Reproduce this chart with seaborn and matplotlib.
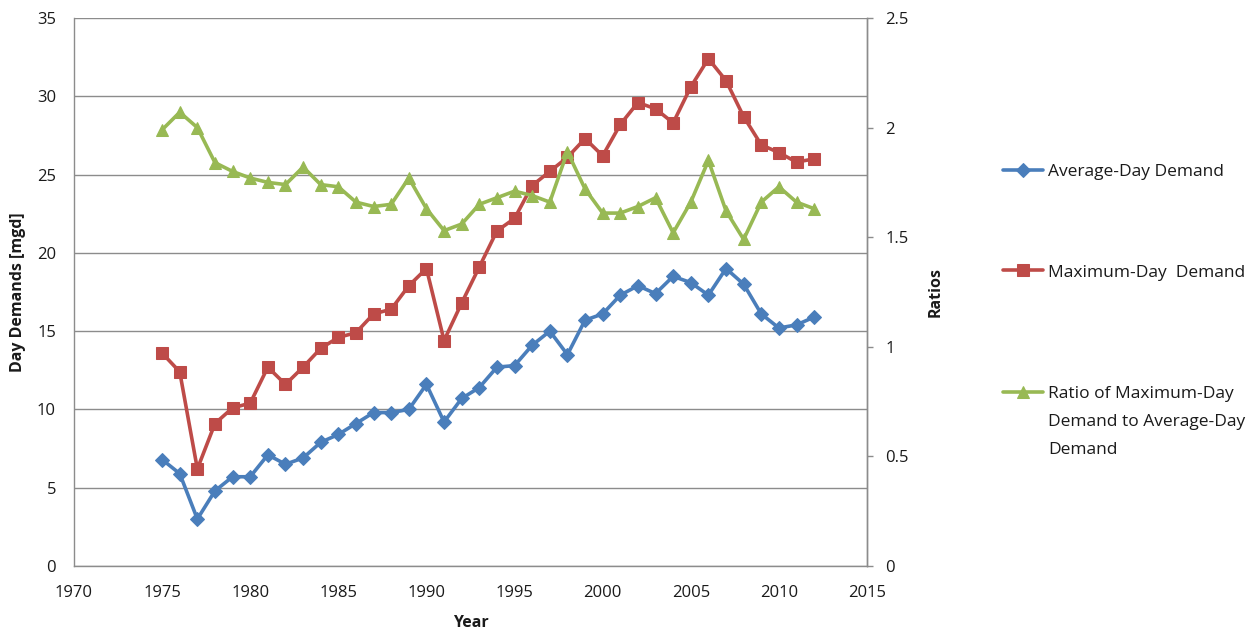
import matplotlib
matplotlib.use("Agg")
import matplotlib.pyplot as plt
import pandas as pd
import seaborn as sns

years = list(range(1975, 2013))
avg_day = [6.8, 5.9, 3.0, 4.8, 5.7, 5.7, 7.1, 6.5, 6.9, 7.9, 8.4, 9.1, 9.8, 9.8, 10.0, 11.6,
           9.2, 10.7, 11.4, 12.7, 12.8, 14.1, 15.0, 13.5, 15.7, 16.1, 17.3, 17.9, 17.4, 18.5,
           18.1, 17.3, 19.0, 18.0, 16.1, 15.2, 15.4, 15.9]
max_day = [13.6, 12.4, 6.2, 9.1, 10.1, 10.4, 12.7, 11.6, 12.7, 13.9, 14.6, 14.9, 16.1, 16.4,
           17.9, 19.0, 14.4, 16.8, 19.1, 21.4, 22.2, 24.3, 25.2, 26.1, 27.3, 26.2, 28.2, 29.6,
           29.2, 28.3, 30.6, 32.4, 31.0, 28.7, 26.9, 26.4, 25.8, 26.0]
ratio = [1.99, 2.07, 2.00, 1.84, 1.80, 1.77, 1.75, 1.74, 1.82, 1.74, 1.73, 1.66, 1.64, 1.65,
         1.77, 1.63, 1.53, 1.56, 1.65, 1.68, 1.71, 1.69, 1.66, 1.89, 1.72, 1.61, 1.61, 1.64,
         1.68, 1.52, 1.66, 1.85, 1.62, 1.49, 1.66, 1.73, 1.66, 1.63]
labels = ["Average-Day Demand", "Maximum-Day  Demand",
          "Ratio of Maximum-Day\nDemand to Average-Day\nDemand"]
left_ticks = [0, 5, 10, 15, 20, 25, 30, 35]
right_ticks = [0, 0.5, 1, 1.5, 2, 2.5]
x_ticks = [1970, 1975, 1980, 1985, 1990, 1995, 2000, 2005, 2010, 2015]

blue = "#4A7EBB"
red = "#BE4B48"
green = "#98B954"
grid_c = "#8C8C8C"
text_c = "#1A1A1A"

sns.set_theme(style="white")
plt.rcParams['font.family'] = ['Open Sans', 'DejaVu Sans']

df = pd.DataFrame({"Year": years, "Avg": avg_day, "Max": max_day, "Ratio": ratio})

fig = plt.figure(figsize=(12.52, 6.32), dpi=100)
ax = fig.add_axes([74 / 1252, 1 - 566 / 632, (867 - 74) / 1252, (566 - 18) / 632])
ax2 = ax.twinx()

sns.lineplot(data=df, x="Year", y="Avg", ax=ax, color=blue, marker="D", markersize=7,
             markeredgecolor=blue, linewidth=2.6, label=labels[0], zorder=3)
sns.lineplot(data=df, x="Year", y="Max", ax=ax, color=red, marker="s", markersize=8.5,
             markeredgecolor=red, linewidth=2.6, label=labels[1], zorder=4)
sns.lineplot(data=df, x="Year", y="Ratio", ax=ax2, color=green, marker="^", markersize=9,
             markeredgecolor=green, linewidth=2.6, label=labels[2], zorder=3)

ax.set_xlim(1970, 2015)
ax.set_ylim(0, 35)
ax2.set_ylim(0, 2.5)
ax.set_xticks(x_ticks)
ax.set_yticks(left_ticks)
ax2.set_yticks(right_ticks)
ax.set_xticklabels([str(t) for t in x_ticks])
ax.set_yticklabels([str(t) for t in left_ticks])
ax2.set_yticklabels([f"{t:g}" for t in right_ticks])

ax.grid(axis="y", color=grid_c, linewidth=1.0)
ax.grid(axis="x", visible=False)
ax2.grid(False)
ax.set_axisbelow(True)

for a in (ax, ax2):
    for s in a.spines.values():
        s.set_color(grid_c)
        s.set_linewidth(1.0)
    a.spines["top"].set_visible(False)
ax2.spines["left"].set_visible(False)
ax2.spines["bottom"].set_visible(False)

ax.tick_params(axis="both", labelsize=12, colors=text_c, length=0)
ax.tick_params(axis="y", pad=13)
ax.tick_params(axis="x", pad=14)
ax2.tick_params(axis="y", labelsize=12, colors=text_c, length=4, width=1, direction="out", pad=9)
ax2.tick_params(axis="y", color=grid_c)

ax.set_xlabel("Year", fontsize=11.5, fontweight="bold", color=text_c)
ax.set_ylabel("Day Demands [mgd]", fontsize=11.5, fontweight="bold", color=text_c)
ax2.set_ylabel("Ratios", fontsize=11.5, fontweight="bold", color=text_c, labelpad=14)
ax.xaxis.set_label_coords(0.5, -0.09)
ax.yaxis.set_label_coords(-0.0605, 0.5)

h1, l1 = ax.get_legend_handles_labels()
h2, l2 = ax2.get_legend_handles_labels()
ax.get_legend().remove()
ax2.get_legend().remove()

leg_kw = dict(loc="upper left", frameon=False, fontsize=12.5, handlelength=2.3,
              handletextpad=0.3, labelcolor=text_c, borderpad=0, borderaxespad=0)
leg1 = fig.legend(h1, l1, bbox_to_anchor=(1003 / 1252, 1 - 164 / 632), labelspacing=4.85, **leg_kw)
leg2 = fig.legend(h2, l2, bbox_to_anchor=(1003 / 1252, 1 - 386 / 632), **leg_kw)
for t in leg2.get_texts():
    t.set_linespacing(2.0)
for col in leg2._legend_handle_box.get_children():
    for it in col.get_children():
        it.align = "top"

fig.savefig("out.png", dpi=100, facecolor="white")
